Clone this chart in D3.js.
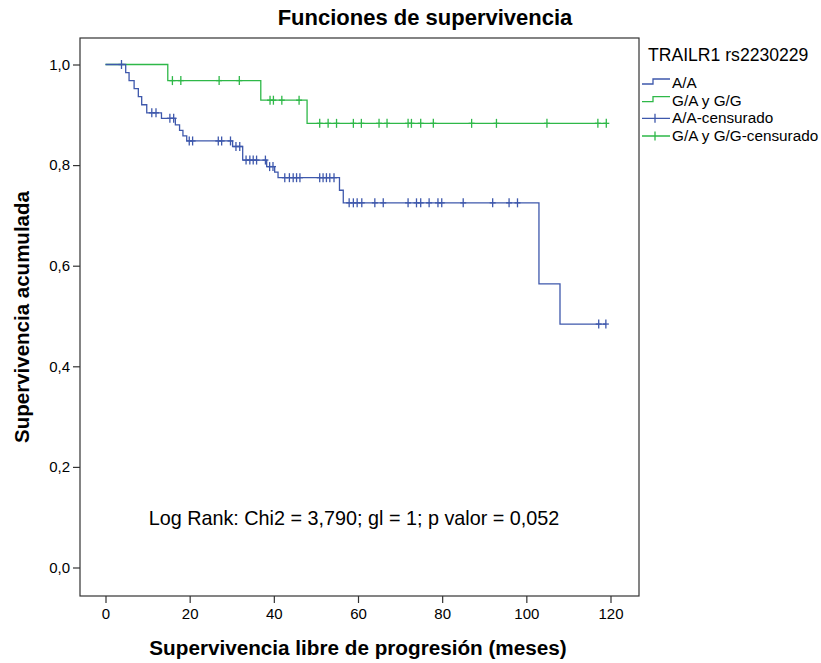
<!DOCTYPE html>
<html>
<head>
<meta charset="utf-8">
<script src="https://cdn.jsdelivr.net/npm/d3@7"></script>
<style>
  body { margin: 0; background: #fff; }
  svg text { font-family: Arial, "Liberation Sans", sans-serif; fill: #000; }
</style>
</head>
<body>
<div id="chart"></div>
<script>
// A/A group: event times (months) and survival after each step
const aaEventTimes = [4.8, 5.6, 6.8, 7.8, 8.6, 9.8, 13.3, 16.6, 17.6, 18.4, 19.3, 30.2, 32.6, 38.3, 40.2, 41.0, 55.6, 56.5, 103, 108]
const aaSurvival = [0.984, 0.968, 0.952, 0.936, 0.920, 0.904, 0.893, 0.880, 0.869, 0.858, 0.848, 0.837, 0.810, 0.797, 0.786, 0.775, 0.750, 0.725, 0.564, 0.484]
const aaCensored = [3.8, 11, 12, 15.3, 16.2, 19.9, 20.7, 26.8, 27.6, 29.7, 31.0, 31.9, 33.4, 34.3, 35.1, 35.9, 38.0, 39.0, 39.8,
  42.6, 43.7, 44.6, 45.4, 46.2, 50.9, 51.7, 52.5, 53.3, 54.3, 57.9, 58.9, 59.8, 60.9, 64, 66, 71.9, 73.9, 74.9, 76.9,
  79, 79.9, 85, 92, 95.9, 97.9, 117.2, 118.9]

// G/A y G/G group
const gaEventTimes = [14.8, 36.9, 47.9]
const gaSurvival = [0.968, 0.929, 0.883]
const gaCensored = [15.9, 17.9, 27, 31.8, 39.1, 39.9, 41.9, 46, 50.9, 52.9, 54.9, 58.9, 60.8, 65, 66.9, 71.9, 72.7,
  74.9, 77.9, 87, 92.9, 104.9, 117, 119]

const xTicks = [0, 20, 40, 60, 80, 100, 120]
const yTicks = [0, 0.2, 0.4, 0.6, 0.8, 1.0]
const legendLabels = ['A/A', 'G/A y G/G', 'A/A-censurado', 'G/A y G/G-censurado']

const width = 821
const height = 663

// plot frame
const frame = { left: 80, top: 38, right: 639, bottom: 596 }

const blue = '#3e58ac'
const green = '#2eb848'

const svg = d3.select('#chart')
  .append('svg')
  .attr('width', width)
  .attr('height', height)

const x = d3.scaleLinear()
  .domain([0, 120])
  .range([105.5, 610.5])

const y = d3.scaleLinear()
  .domain([0, 1])
  .range([567.5, 64.5])

const commaFormat = d => d3.format('.1f')(d).replace('.', ',')

// frame
svg.append('rect')
  .attr('x', frame.left)
  .attr('y', frame.top)
  .attr('width', frame.right - frame.left)
  .attr('height', frame.bottom - frame.top)
  .attr('fill', 'none')
  .attr('stroke', '#333')
  .attr('stroke-width', 1.2)

// axes
const xAxis = d3.axisBottom(x)
  .tickValues(xTicks)
  .tickSize(7)
  .tickPadding(5)
  .tickFormat(d3.format('d'))

const yAxis = d3.axisLeft(y)
  .tickValues(yTicks)
  .tickSize(7)
  .tickPadding(3)
  .tickFormat(commaFormat)

svg.append('g')
  .attr('class', 'axis axis--x')
  .attr('transform', `translate(0,${frame.bottom})`)
  .call(xAxis)

svg.append('g')
  .attr('class', 'axis axis--y')
  .attr('transform', `translate(${frame.left},0)`)
  .call(yAxis)

d3.selectAll('.axis').select('.domain').remove()
d3.selectAll('.axis .tick line').attr('stroke', '#333').attr('stroke-width', 1.2)
d3.selectAll('.axis text')
  .attr('font-size', 15)
  .attr('fill', '#222')
  .style('font-family', 'Arial, "Liberation Sans", sans-serif')

// survival at time t from the step function
const survivalAt = function(times, surv, t) {
  let s = 1
  times.forEach((tt, i) => { if (tt <= t) s = surv[i] })
  return s
}

const stepLine = d3.line()
  .x(d => x(d[0]))
  .y(d => y(d[1]))
  .curve(d3.curveStepAfter)

const drawGroup = function(times, surv, censored, color) {
  const end = d3.max(censored.concat(times))
  const points = [[0, 1]].concat(times.map((t, i) => [t, surv[i]]))
  points.push([end, surv[surv.length - 1]])

  svg.append('path')
    .datum(points)
    .attr('d', stepLine)
    .attr('fill', 'none')
    .attr('stroke', color)
    .attr('stroke-width', 1.3)

  const marks = svg.append('g')
    .selectAll('g')
    .data(censored)
    .join('g')
    .attr('transform', d => `translate(${x(d)},${y(survivalAt(times, surv, d))})`)

  marks.append('line')
    .attr('x1', 0).attr('x2', 0)
    .attr('y1', -4.5).attr('y2', 4.5)
    .attr('stroke', color)
    .attr('stroke-width', 1.3)

  marks.append('line')
    .attr('x1', -3).attr('x2', 3)
    .attr('y1', 0).attr('y2', 0)
    .attr('stroke', color)
    .attr('stroke-width', 1.3)
}

drawGroup(gaEventTimes, gaSurvival, gaCensored, green)
drawGroup(aaEventTimes, aaSurvival, aaCensored, blue)

// titles
svg.append('text')
  .attr('x', 425)
  .attr('y', 25)
  .attr('text-anchor', 'middle')
  .attr('font-size', 22)
  .attr('font-weight', 'bold')
  .text('Funciones de supervivencia')

svg.append('text')
  .attr('x', 358)
  .attr('y', 655)
  .attr('text-anchor', 'middle')
  .attr('font-size', 20.7)
  .attr('font-weight', 'bold')
  .text('Supervivencia libre de progresión (meses)')

svg.append('text')
  .attr('transform', `translate(29,${(frame.top + frame.bottom) / 2}) rotate(-90)`)
  .attr('text-anchor', 'middle')
  .attr('font-size', 20.5)
  .attr('font-weight', 'bold')
  .text('Supervivencia acumulada')

svg.append('text')
  .attr('x', 354)
  .attr('y', 525)
  .attr('text-anchor', 'middle')
  .attr('font-size', 19.8)
  .text('Log Rank: Chi2 = 3,790; gl = 1; p valor = 0,052')

// legend
const legend = svg.append('g')
  .attr('transform', 'translate(642,0)')

legend.append('text')
  .attr('x', 6)
  .attr('y', 61)
  .attr('font-size', 17.6)
  .text('TRAILR1 rs2230229')

const legendColors = [blue, green, blue, green]
const legendY = d3.scalePoint()
  .domain(legendLabels)
  .range([83, 136])

legendLabels.forEach((label, i) => {
  const cy = legendY(label)
  const g = legend.append('g')
  if (i < 2) {
    g.append('path')
      .attr('d', `M0,${cy + 1}H11V${cy - 4}H28`)
      .attr('fill', 'none')
      .attr('stroke', legendColors[i])
      .attr('stroke-width', 1.3)
  } else {
    g.append('path')
      .attr('d', `M0,${cy}H28M13,${cy - 4.5}V${cy + 4.5}`)
      .attr('fill', 'none')
      .attr('stroke', legendColors[i])
      .attr('stroke-width', 1.3)
  }
  g.append('text')
    .attr('x', 30)
    .attr('y', cy + 5)
    .attr('font-size', 15.3)
    .text(label)
})
</script>
</body>
</html>
